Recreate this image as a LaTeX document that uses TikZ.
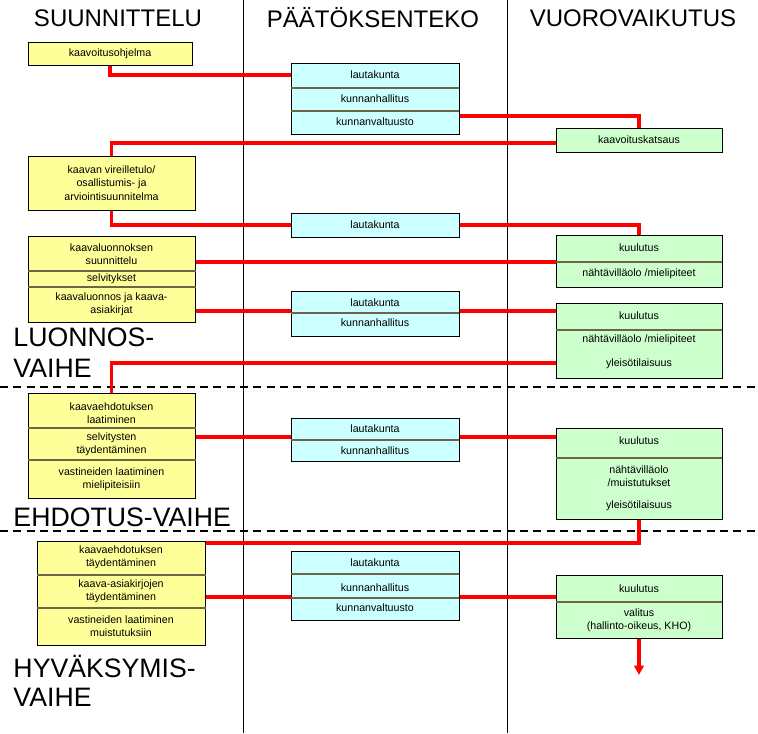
\documentclass[tikz,border=0pt]{standalone}
\usepackage{fontspec}
\setmainfont{Liberation Sans}
\usetikzlibrary{arrows.meta}
\definecolor{boxyellow}{RGB}{255,255,153}
\definecolor{boxcyan}{RGB}{204,255,255}
\definecolor{boxgreen}{RGB}{204,255,204}
\definecolor{divline}{RGB}{110,100,70}
\tikzset{every picture/.style={line width=0.75pt}}
\tikzset{
  ybox/.style={draw, fill=boxyellow, inner sep=0pt},
  cbox/.style={draw, fill=boxcyan, inner sep=0pt, minimum width=126pt},
  gbox/.style={draw, fill=boxgreen, inner sep=0pt, minimum width=124.5pt},
  txt/.style={font=\fontsize{8}{10}\selectfont, align=center, inner sep=0pt},
  head/.style={font=\fontsize{18}{20}\selectfont},
  phase/.style={font=\fontsize{20}{23}\selectfont, anchor=west, inner sep=0pt},
  div/.style={draw=divline, line width=1pt},
  link/.style={draw=red, line width=2.6pt},
}

\begin{document}
\begin{tikzpicture}[x=0.75pt,y=0.75pt,yscale=-1,xscale=1]
\useasboundingbox (0,0) rectangle (758,733);

%Columns
\draw (243,0) -- (243,733);
\draw (507,0) -- (507,733);
%Phase borders
\draw [line width=1.2pt, dash pattern=on 6pt off 4pt] (0,387) -- (758,387);
\draw [line width=1.2pt, dash pattern=on 6pt off 4pt] (0,531) -- (758,531);

% Headers
\node[head] (hsuun) at (118,18) {SUUNNITTELU};
\node[head] (hpaat) at (373,18) {PÄÄTÖKSENTEKO};
\node[head] (hvuor) at (633,18) {VUOROVAIKUTUS};

% Phase labels
\node[phase] (pluon) at (13,337) {LUONNOS-};
\node[phase] (pluon2) at (13,368) {VAIHE};
\node[phase] (pehdo) at (13,517) {EHDOTUS-VAIHE};
\node[phase] (phyva) at (13,666) {HYVÄKSYMIS-};
\node[phase] (phyva2) at (13,697) {VAIHE};

%Shape: yellow boxes
\node[ybox, minimum width=123pt, minimum height=17.25pt] (y1) at (110,53.5) {};
\node[ybox, minimum width=125.25pt, minimum height=40.5pt] (y2) at (111.5,183) {};
\node[ybox, minimum width=125.25pt, minimum height=64.5pt] (y3) at (111.5,279) {};
\node[ybox, minimum width=125.25pt, minimum height=78.75pt] (y4) at (111.5,445.5) {};
\node[ybox, minimum width=126pt, minimum height=78pt] (y5) at (121,593) {};
\draw[div] (28,271) -- (196,271);
\draw[div] (28,287) -- (196,287);
\draw[div] (28,428) -- (196,428);
\draw[div] (28,460) -- (196,460);
\draw[div] (37,575) -- (206,575);
\draw[div] (37,608) -- (206,608);

%Shape: cyan boxes
\node[cbox, minimum height=53.25pt] (c1) at (375,98.5) {};
\node[cbox, minimum height=18pt] (c2) at (375,225) {};
\node[cbox, minimum height=33.75pt] (c3) at (375,313.5) {};
\node[cbox, minimum height=32.25pt] (c4) at (375,439.5) {};
\node[cbox, minimum height=51.75pt] (c5) at (375,585.5) {};
\draw[div] (291,88) -- (459,88);
\draw[div] (291,111) -- (459,111);
\draw[div] (291,313) -- (459,313);
\draw[div] (291,440) -- (459,440);
\draw[div] (291,574) -- (459,574);
\draw[div] (291,598) -- (459,598);

%Shape: green boxes
\node[gbox, minimum height=18pt] (g1) at (639,140) {};
\node[gbox, minimum height=39pt] (g2) at (639,261) {};
\node[gbox, minimum height=56.25pt] (g3) at (639,340.5) {};
\node[gbox, minimum height=68.25pt] (g4) at (639,473.5) {};
\node[gbox, minimum height=47.25pt] (g5) at (639,606.5) {};
\draw[div] (556,262) -- (722,262);
\draw[div] (556,330) -- (722,330);
\draw[div] (556,458) -- (722,458);
\draw[div] (556,602) -- (722,602);

% Text Node
\node[txt] (t1) at (110,53.5) {kaavoitusohjelma};
\node[txt] (t2) at (111.5,183) {kaavan vireilletulo/\\osallistumis- ja\\arviointisuunnitelma};
\node[txt] (t3) at (111.5,254) {kaavaluonnoksen\\suunnittelu};
\node[txt] (t4) at (111.5,279) {selvitykset};
\node[txt] (t5) at (111.5,304) {kaavaluonnos ja kaava-\\asiakirjat};
\node[txt] (t6) at (111.5,413) {kaavaehdotuksen\\laatiminen};
\node[txt] (t7) at (111.5,444) {selvitysten\\täydentäminen};
\node[txt] (t8) at (111.5,479) {vastineiden laatiminen\\mielipiteisiin};
\node[txt] (t9) at (121,557) {kaavaehdotuksen\\täydentäminen};
\node[txt] (t10) at (121,591) {kaava-asiakirjojen\\täydentäminen};
\node[txt] (t11) at (121,626) {vastineiden laatiminen\\muistutuksiin};
\node[txt] (t12) at (375,75) {lautakunta};
\node[txt] (t13) at (375,99) {kunnanhallitus};
\node[txt] (t14) at (375,122) {kunnanvaltuusto};
\node[txt] (t15) at (375,225) {lautakunta};
\node[txt] (t16) at (375,303) {lautakunta};
\node[txt] (t17) at (375,323) {kunnanhallitus};
\node[txt] (t18) at (375,429) {lautakunta};
\node[txt] (t19) at (375,451) {kunnanhallitus};
\node[txt] (t20) at (375,563) {lautakunta};
\node[txt] (t21) at (375,588) {kunnanhallitus};
\node[txt] (t22) at (375,608) {kunnanvaltuusto};
\node[txt] (t23) at (639,140) {kaavoituskatsaus};
\node[txt] (t24) at (639,248) {kuulutus};
\node[txt] (t25) at (639,274) {nähtävilläolo /mielipiteet};
\node[txt] (t26) at (639,316) {kuulutus};
\node[txt] (t27) at (639,340) {nähtävilläolo /mielipiteet};
\node[txt] (t28) at (639,364) {yleisötilaisuus};
\node[txt] (t29) at (639,441) {kuulutus};
\node[txt] (t30) at (639,476) {nähtävilläolo\\/muistutukset};
\node[txt] (t31) at (639,506) {yleisötilaisuus};
\node[txt] (t32) at (639,589) {kuulutus};
\node[txt] (t33) at (639,620) {valitus\\(hallinto-oikeus, KHO)};

% Connectors
\coordinate (appeal) at (639,675);
\draw[link] (y1.south) |- (c1.west |- 0,75);
\draw[link] (c1.east |- 0,116) -| (g1.north);
\draw[link] (g1.west |- 0,143) -| (y2.north);
\draw[link] (y2.south) |- (c2.west);
\draw[link] (c2.east) -| (g2.north);
\draw[link] (y3.east |- 0,262) -- (g2.west |- 0,262);
\draw[link] (y3.east |- 0,311) -- (c3.west |- 0,311);
\draw[link] (c3.east |- 0,311) -- (g3.west |- 0,311);
\draw[link] (g3.west |- 0,363) -| (y4.north);
\draw[link] (y4.east |- 0,437) -- (c4.west |- 0,437);
\draw[link] (c4.east |- 0,437) -- (g4.west |- 0,437);
\draw[link] (g4.south) |- (y5.east |- 0,543);
\draw[link] (y5.east |- 0,597) -- (c5.west |- 0,597);
\draw[link] (c5.east |- 0,597) -- (g5.west |- 0,597);
\draw[link, -{Triangle[length=7pt,width=7pt]}] (g5.south) -- (appeal);

\end{tikzpicture}
\end{document}
